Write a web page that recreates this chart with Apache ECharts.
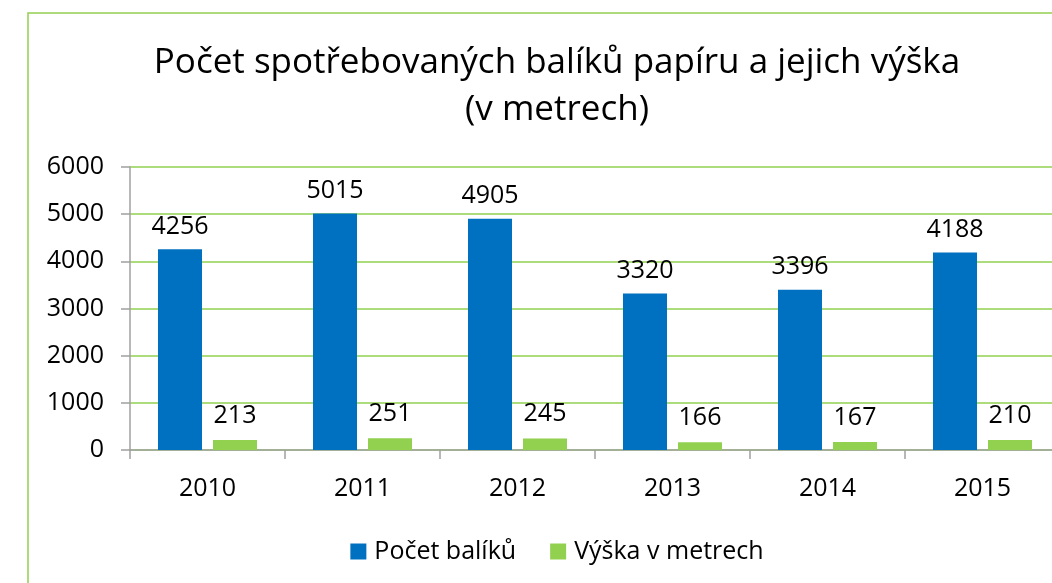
<!DOCTYPE html>
<html>
<head>
<meta charset="utf-8">
<script src="https://cdn.jsdelivr.net/npm/echarts@6/dist/echarts.min.js"></script>
<style>
    html, body { margin: 0; padding: 0; background: #fff; overflow: hidden; }
    #chart { width: 1114px; height: 583px; }
</style>
</head>
<body>
<div id="chart"></div>
<script>
    // data
    var years = ['2010', '2011', '2012', '2013', '2014', '2015'];
    var pocetBaliku = [4256, 5015, 4905, 3320, 3396, 4188];
    var vyskaMetry = [213, 251, 245, 166, 167, 210];
    var seriesNames = ['Počet balíků', 'Výška v metrech'];
    var yTicks = { min: 0, max: 6000, interval: 1000 };

    var font = '"Open Sans", "Noto Sans", sans-serif';
    var chart = echarts.init(document.getElementById('chart'));

    chart.setOption({
        animation: false,
        color: ['#0070C0', '#92D050'],
        textStyle: { fontFamily: font, color: '#000' },
        title: {
            text: 'Počet spotřebovaných balíků papíru a jejich výška\n(v metrech)',
            left: 'center',
            top: 35,
            textStyle: { fontSize: 35, fontWeight: 'normal', lineHeight: 47, color: '#000', fontFamily: font }
        },
        // outer chart border (only left and top are visible in the crop)
        graphic: [{
            type: 'rect',
            shape: { x: 28, y: 13, width: 1058, height: 700 },
            style: { fill: 'none', stroke: '#92D050', lineWidth: 1.5 }
        }],
        legend: {
            data: seriesNames,
            left: 'center',
            top: 534,
            itemWidth: 16,
            itemHeight: 16,
            itemGap: 34,
            icon: 'rect',
            textStyle: { fontSize: 25, color: '#000', fontFamily: font, padding: [0, 0, 0, 3] }
        },
        grid: {
            left: 130,
            right: 54,
            top: 167,
            bottom: 133
        },
        xAxis: {
            type: 'category',
            data: years,
            axisLine: { lineStyle: { color: '#a0a0a0', width: 1.5 } },
            axisTick: { show: true, length: 9, lineStyle: { color: '#a0a0a0', width: 1.5 } },
            axisLabel: { fontSize: 25, color: '#000', margin: 26 }
        },
        yAxis: {
            type: 'value',
            min: yTicks.min,
            max: yTicks.max,
            interval: yTicks.interval,
            axisLine: { show: true, lineStyle: { color: '#a0a0a0', width: 1.5 } },
            axisTick: { show: true, length: 9, lineStyle: { color: '#a0a0a0', width: 1.5 } },
            axisLabel: { fontSize: 25, color: '#000', margin: 26, formatter: function (v) { return String(v); } },
            splitLine: { lineStyle: { color: '#92D050', width: 1.5 } }
        },
        series: [
            {
                name: seriesNames[0],
                type: 'bar',
                data: pocetBaliku,
                barWidth: 44,
                barGap: '25%',
                label: { show: true, position: 'top', distance: 10, fontSize: 25, color: '#000' }
            },
            {
                name: seriesNames[1],
                type: 'bar',
                data: vyskaMetry,
                barWidth: 44,
                label: { show: true, position: 'top', distance: 12, fontSize: 25, color: '#000' }
            }
        ]
    });
</script>
</body>
</html>
